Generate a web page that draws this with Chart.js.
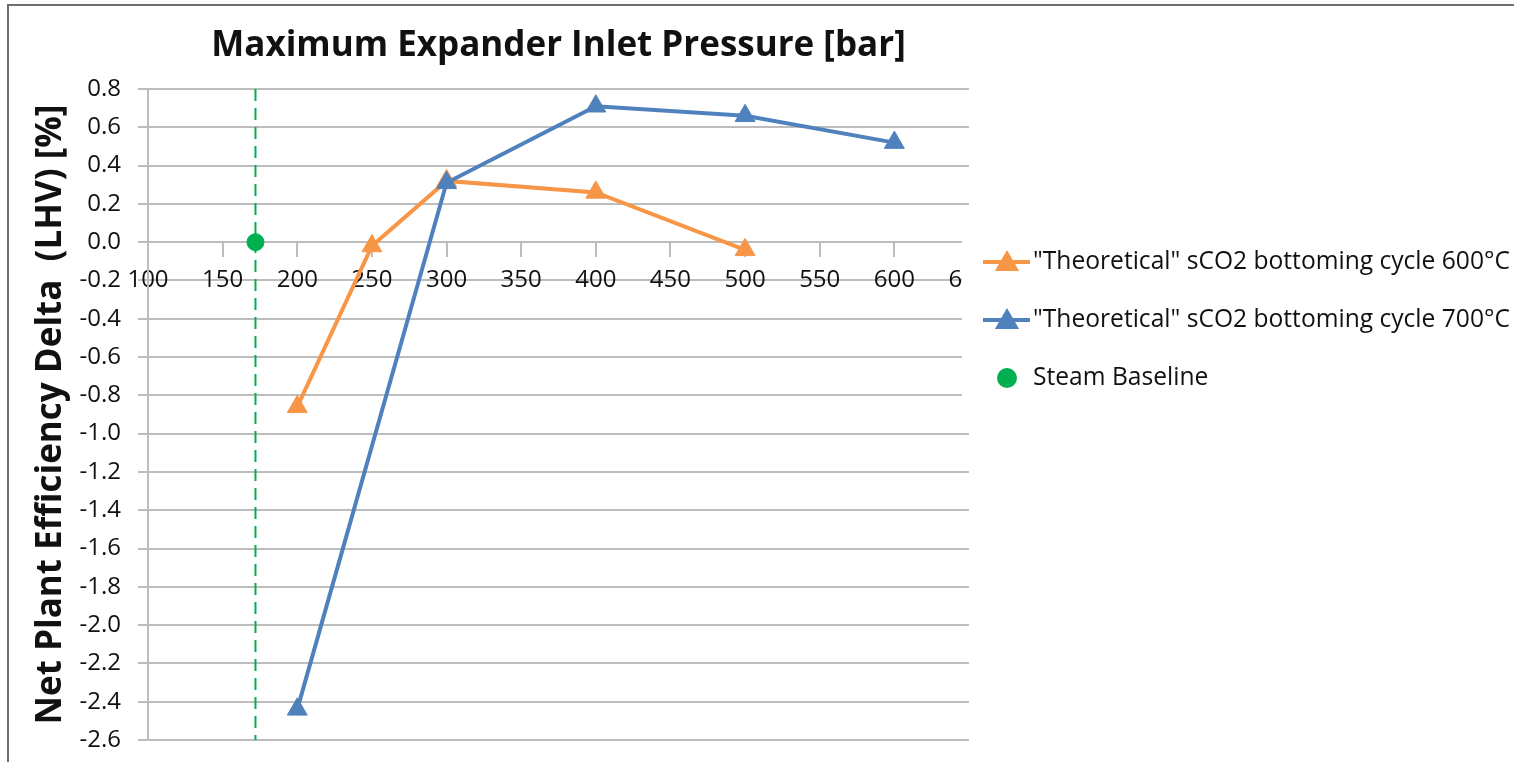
<!DOCTYPE html>
<html>
<head>
<meta charset="utf-8">
<script src="https://cdn.jsdelivr.net/npm/chart.js@4/dist/chart.umd.min.js"></script>
<style>
  html, body { margin: 0; padding: 0; background: #ffffff; overflow: hidden; }
  #frame {
    position: absolute; left: 7px; top: 4px; width: 1600px; height: 900px;
    border: 2px solid #6e6e6e; box-sizing: border-box;
  }
  #wrap { position: absolute; left: 0; top: 0; width: 1514px; height: 762px; }
</style>
</head>
<body>
<div id="frame"></div>
<div id="wrap"><canvas id="chart" width="1514" height="762"></canvas></div>
<script>
// Maximum expander inlet pressure [bar] vs. net plant efficiency delta (LHV) [%]
const pressures600 = [200, 250, 300, 400, 500];
const delta600 = [-0.86, -0.02, 0.32, 0.26, -0.04];

const pressures700 = [200, 300, 400, 500, 600];
const delta700 = [-2.44, 0.31, 0.71, 0.66, 0.52];

const baselinePressure = 172;
const baselineDelta = 0;

const seriesLabels = [
  '"Theoretical" sCO2 bottoming cycle 600\u00B0C',
  '"Theoretical" sCO2 bottoming cycle 700\u00B0C',
  'Steam Baseline'
];

const xTitleText = 'Maximum Expander Inlet Pressure [bar]';
const yTitleText = 'Net Plant Efficiency Delta  (LHV) [%]';

const xMin = 100, xMax = 650, xStep = 50;
const yMin = -2.6, yMax = 0.8, yStep = 0.2;

const ORANGE = '#F79646';
const BLUE = '#4F81BD';
const GREEN = '#00B050';
const GRID = '#bdbdbd';
const TEXT = '#111111';

const toPoints = (xs, ys) => xs.map((x, i) => ({ x, y: ys[i] }));

// Legend box drawn at the right side, over the end of the plot
const sideLegend = {
  id: 'sideLegend',
  afterDraw(chart) {
    const ctx = chart.ctx;
    const boxX = 962, boxY = 215;
    ctx.save();
    ctx.fillStyle = '#ffffff';
    ctx.fillRect(boxX, boxY, chart.width - boxX, 210);
    const rows = [262, 320, 378];
    const entries = chart.data.datasets.filter(d => d.inLegend);
    ctx.font = '24.6px "Open Sans"';
    ctx.textBaseline = 'middle';
    ctx.textAlign = 'left';
    entries.forEach((ds, i) => {
      const y = rows[i];
      if (ds.showLine) {
        ctx.strokeStyle = ds.borderColor;
        ctx.lineWidth = ds.borderWidth;
        ctx.beginPath();
        ctx.moveTo(983, y);
        ctx.lineTo(1030, y);
        ctx.stroke();
      }
      ctx.fillStyle = ds.pointBackgroundColor;
      ctx.strokeStyle = ds.pointBorderColor;
      Chart.helpers.drawPoint(ctx, {
        pointStyle: ds.pointStyle,
        radius: ds.legendRadius,
        borderWidth: 1,
        rotation: 0
      }, 1007, y + (ds.pointStyle === 'triangle' ? 2 : 0));
      ctx.fillStyle = TEXT;
      ctx.fillText(ds.label, 1033, y);
    });
    ctx.restore();
  }
};

new Chart(document.getElementById('chart'), {
  type: 'scatter',
  data: {
    datasets: [
      {
        label: seriesLabels[0],
        inLegend: true,
        data: toPoints(pressures600, delta600),
        showLine: true,
        borderColor: ORANGE,
        backgroundColor: ORANGE,
        pointBackgroundColor: ORANGE,
        pointBorderColor: ORANGE,
        borderWidth: 4,
        pointStyle: 'triangle',
        pointRadius: 11.5,
        pointBorderWidth: 1,
        legendRadius: 10,
        order: 2
      },
      {
        label: seriesLabels[1],
        inLegend: true,
        data: toPoints(pressures700, delta700),
        showLine: true,
        borderColor: BLUE,
        backgroundColor: BLUE,
        pointBackgroundColor: BLUE,
        pointBorderColor: BLUE,
        borderWidth: 4,
        pointStyle: 'triangle',
        pointRadius: 11.5,
        pointBorderWidth: 1,
        legendRadius: 10,
        order: 1
      },
      {
        label: seriesLabels[2],
        inLegend: true,
        data: [{ x: baselinePressure, y: baselineDelta }],
        showLine: false,
        borderColor: GREEN,
        backgroundColor: GREEN,
        pointBackgroundColor: GREEN,
        pointBorderColor: GREEN,
        pointStyle: 'circle',
        pointRadius: 8.5,
        pointBorderWidth: 1,
        legendRadius: 8,
        order: 0
      },
      {
        label: 'baseline-marker',
        inLegend: false,
        data: [{ x: baselinePressure, y: yMax }, { x: baselinePressure, y: yMin }],
        showLine: true,
        borderColor: GREEN,
        borderWidth: 2,
        borderDash: [12, 7],
        pointRadius: 0,
        pointHoverRadius: 0,
        order: 5
      }
    ]
  },
  options: {
    responsive: false,
    animation: false,
    events: [],
    layout: {
      autoPadding: false,
      padding: { left: 0, top: 0, right: 545, bottom: 22 }
    },
    plugins: {
      legend: { display: false },
      tooltip: { enabled: false },
      title: { display: false }
    },
    scales: {
      x: {
        type: 'linear',
        position: { y: 0 },
        min: xMin,
        max: xMax,
        grid: {
          display: true,
          drawOnChartArea: false,
          drawTicks: true,
          tickLength: 14,
          color: GRID,
          lineWidth: 2
        },
        border: { display: true, color: GRID, width: 2 },
        ticks: {
          stepSize: xStep,
          padding: 10,
          color: TEXT,
          font: { family: '"Open Sans"', size: 24 },
          maxRotation: 0,
          autoSkip: false,
          callback: v => String(v)
        },
        afterFit(scale) { scale.paddingLeft = 0; scale.paddingRight = 0; }
      },
      xTitle: {
        type: 'linear',
        position: 'top',
        min: xMin,
        max: xMax,
        grid: { display: false, drawTicks: false },
        border: { display: false },
        ticks: { display: false },
        title: {
          display: true,
          text: xTitleText,
          color: TEXT,
          font: { family: '"Open Sans"', size: 35, weight: 'bold' },
          padding: { top: 25, bottom: 0 }
        },
        afterFit(scale) { scale.height = 89; scale.paddingLeft = 0; scale.paddingRight = 0; }
      },
      y: {
        type: 'linear',
        position: 'left',
        min: yMin,
        max: yMax,
        grid: {
          color: GRID,
          lineWidth: 2,
          drawTicks: true,
          tickLength: 10
        },
        border: { display: true, color: GRID, width: 2 },
        ticks: {
          stepSize: yStep,
          padding: 17,
          color: TEXT,
          font: { family: '"Open Sans"', size: 24 },
          callback: v => (Math.abs(v) < 1e-9 ? 0 : v).toFixed(1)
        },
        title: {
          display: true,
          text: yTitleText,
          color: TEXT,
          font: { family: '"Open Sans"', size: 35, weight: 'bold' },
          padding: { top: 30, bottom: 0 }
        },
        afterFit(scale) { scale.width = 148; scale.paddingTop = 0; scale.paddingBottom = 0; }
      }
    }
  },
  plugins: [sideLegend]
});
</script>
</body>
</html>
